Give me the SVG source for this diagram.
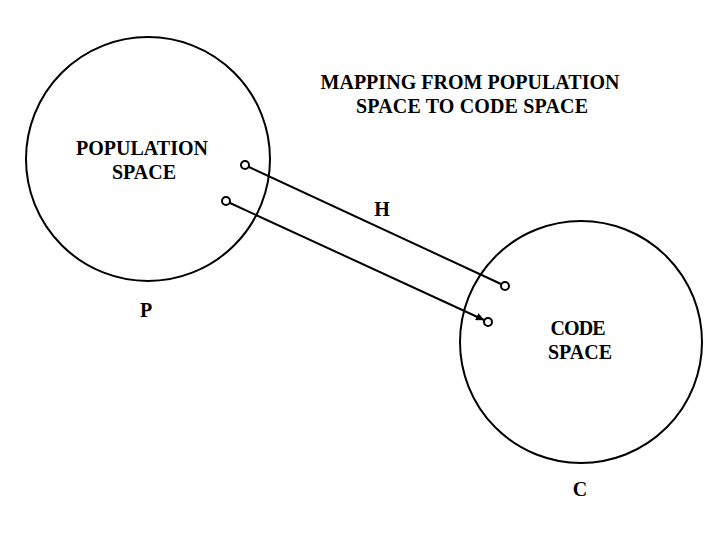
<svg xmlns="http://www.w3.org/2000/svg" width="720" height="540" viewBox="0 0 720 540">
<style>
text{font-family:'Liberation Serif','Times New Roman',Times,serif;font-weight:bold;font-size:20px;fill:#000;text-anchor:middle}
.c{fill:none;stroke:#000;stroke-width:2}
.d{fill:#fff;stroke:#000;stroke-width:2}
.l{stroke:#000;stroke-width:2;fill:none}
</style>
<defs>
<marker id="ah" viewBox="0 0 6 6" refX="6" refY="3" markerWidth="4" markerHeight="4" orient="auto" markerUnits="strokeWidth">
<path d="M0,0 L6,3 L0,6 z" fill="#000"/>
</marker>
</defs>
<rect width="720" height="540" fill="#fff"/>
<g id="population-space">
<circle class="c" cx="148" cy="159" r="122"/>
<text x="142" y="155" textLength="132">POPULATION</text>
<text x="144" y="179" textLength="64">SPACE</text>
<text x="146" y="317">P</text>
</g>
<g id="code-space">
<circle class="c" cx="581" cy="342" r="121"/>
<text x="578" y="335" textLength="55">CODE</text>
<text x="580" y="359" textLength="64">SPACE</text>
<text x="580" y="496">C</text>
</g>
<g id="title">
<text x="470" y="89" textLength="299">MAPPING FROM POPULATION</text>
<text x="472" y="113" textLength="232">SPACE TO CODE SPACE</text>
</g>
<g id="connectors">
<line class="l" x1="249" y1="167" x2="501" y2="284"/>
<line class="l" x1="230" y1="203" x2="484" y2="320" marker-end="url(#ah)"/>
<circle class="d" cx="245" cy="165" r="4"/>
<circle class="d" cx="226" cy="201" r="4"/>
<circle class="d" cx="505" cy="286" r="4"/>
<circle class="d" cx="488" cy="322" r="4"/>
<text x="382" y="216">H</text>
</g>
</svg>
